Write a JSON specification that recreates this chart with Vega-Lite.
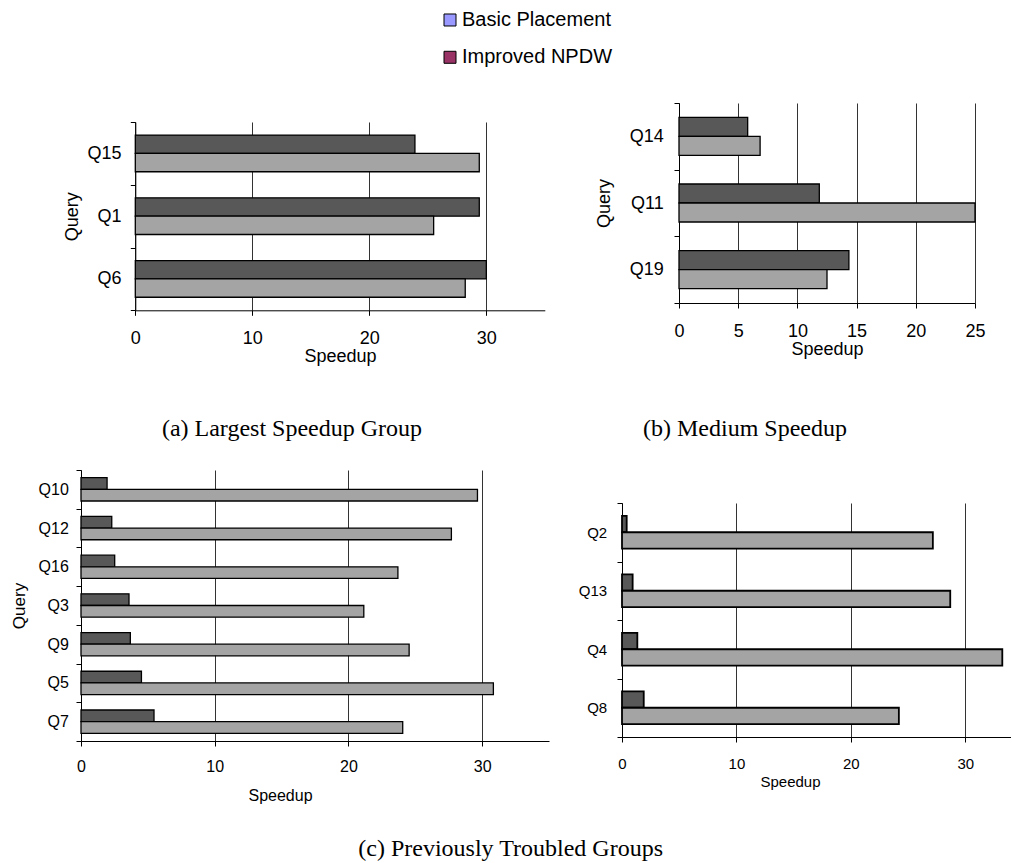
{
  "$schema": "https://vega.github.io/schema/vega-lite/v6.json",
  "autosize": {"type": "pad"},
  "padding": {"left": 10, "top": 5, "right": 0, "bottom": 0},
  "background": "white",
  "title": {"text": "(c) Previously Troubled Groups", "orient": "bottom", "anchor": "middle", "baseline": "top", "offset": 33},
  "config": {
    "view": {"stroke": null},
    "axis": {"domainColor": "black", "tickColor": "black", "labelColor": "black", "titleColor": "black", "labelFont": "Liberation Sans", "titleFont": "Liberation Sans", "titleFontWeight": "normal", "gridColor": "#333333", "gridWidth": 1, "tickSize": 5, "domainWidth": 1, "tickWidth": 1, "labelFlush": false, "labelOverlap": false},
    "axisX": {"grid": true},
    "axisY": {"grid": false},
    "title": {"font": "Liberation Serif", "fontSize": 24, "fontWeight": "normal", "color": "black"}
  },
  "spacing": 20,
  "resolve": {"scale": {"yOffset": "independent"}},
  "vconcat": [
    {
      "spacing": 17,
      "resolve": {"scale": {"yOffset": "independent"}},
      "vconcat": [
        {
          "width": 369,
          "height": 72,
          "data": {"values": [{"series": "Basic Placement"}, {"series": "Improved NPDW"}]},
          "encoding": {
            "y": {"field": "series", "type": "nominal", "scale": {"type": "point", "domain": ["Basic Placement", "Improved NPDW"], "padding": 0.465, "align": 0.432}, "axis": null},
            "x": {"datum": 1, "type": "quantitative", "scale": {"domain": [0, 1], "nice": false}, "axis": null}
          },
          "layer": [
            {"mark": {"type": "square", "size": 144, "filled": true, "opacity": 1, "stroke": "black", "strokeWidth": 1},
             "encoding": {"color": {"field": "series", "type": "nominal", "scale": {"domain": ["Basic Placement", "Improved NPDW"], "range": ["#9999ff", "#993366"]}, "legend": null}}},
            {"mark": {"type": "text", "align": "left", "baseline": "middle", "dx": 12, "font": "Liberation Sans", "fontSize": 20, "color": "black"},
             "encoding": {"text": {"field": "series"}}}
          ]
        },
        {
          "spacing": 50,
          "resolve": {"scale": {"yOffset": "independent"}},
          "hconcat": [
            {
              "spacing": 8,
              "resolve": {"scale": {"yOffset": "independent"}},
              "vconcat": [
                {"width": 10, "height": 2, "data": {"values": []}, "mark": "point", "encoding": {}},
                {
                  "width": 464,
                  "height": 188.3,
                  "title": {"text": "(a) Largest Speedup Group", "orient": "bottom", "frame": "group", "anchor": "middle", "dx": -21, "baseline": "top", "offset": 52},
                  "data": {"values": [
                    {"query": "Q15", "series": "Improved NPDW", "speedup": 23.9},
                    {"query": "Q15", "series": "Basic Placement", "speedup": 29.4},
                    {"query": "Q1", "series": "Improved NPDW", "speedup": 29.4},
                    {"query": "Q1", "series": "Basic Placement", "speedup": 25.5},
                    {"query": "Q6", "series": "Improved NPDW", "speedup": 30.0},
                    {"query": "Q6", "series": "Basic Placement", "speedup": 28.2}
                  ]},
                  "mark": {"type": "bar", "stroke": "black", "strokeWidth": 1.3},
                  "encoding": {
                    "y": {"field": "query", "type": "nominal", "scale": {"domain": ["Q15", "Q1", "Q6"], "paddingInner": 0, "paddingOuter": 0}, "axis": {"title": "Query", "offset": -54.3, "tickBand": "extent", "labelFontSize": 18, "titleFontSize": 18, "labelPadding": 9.3, "titlePadding": 5}},
                    "yOffset": {"field": "series", "type": "nominal", "scale": {"domain": ["Improved NPDW", "Basic Placement"], "paddingInner": 0, "paddingOuter": 0.71}},
                    "x": {"field": "speedup", "type": "quantitative", "scale": {"domain": [0, 35], "range": [54.3, 463.8], "nice": false}, "axis": {"title": "Speedup", "values": [0, 10, 20, 30], "labelFontSize": 18, "titleFontSize": 18, "labelPadding": 14, "titlePadding": 0}},
                    "fill": {"field": "series", "type": "nominal", "scale": {"domain": ["Basic Placement", "Improved NPDW"], "range": ["#a4a4a4", "#585858"]}, "legend": null}
                  }
                }
              ]
            },
            {
              "width": 296,
              "height": 200,
              "title": {"text": "(b) Medium Speedup", "orient": "bottom", "frame": "group", "anchor": "middle", "dx": -82, "baseline": "top", "offset": 59},
              "data": {"values": [
                {"query": "Q14", "series": "Improved NPDW", "speedup": 5.8},
                {"query": "Q14", "series": "Basic Placement", "speedup": 6.85},
                {"query": "Q11", "series": "Improved NPDW", "speedup": 11.85},
                {"query": "Q11", "series": "Basic Placement", "speedup": 25.0},
                {"query": "Q19", "series": "Improved NPDW", "speedup": 14.35},
                {"query": "Q19", "series": "Basic Placement", "speedup": 12.5}
              ]},
              "mark": {"type": "bar", "stroke": "black", "strokeWidth": 1.3},
              "encoding": {
                "y": {"field": "query", "type": "nominal", "scale": {"domain": ["Q14", "Q11", "Q19"], "paddingInner": 0, "paddingOuter": 0}, "axis": {"title": "Query", "tickBand": "extent", "labelFontSize": 18, "titleFontSize": 18, "labelPadding": 10.7, "titlePadding": 16}},
                "yOffset": {"field": "series", "type": "nominal", "scale": {"domain": ["Improved NPDW", "Basic Placement"], "paddingInner": 0, "paddingOuter": 0.755}},
                "x": {"field": "speedup", "type": "quantitative", "scale": {"domain": [0, 25], "nice": false}, "axis": {"title": "Speedup", "values": [0, 5, 10, 15, 20, 25], "labelFontSize": 18, "titleFontSize": 18, "labelPadding": 14, "titlePadding": 0}},
                "fill": {"field": "series", "type": "nominal", "scale": {"domain": ["Basic Placement", "Improved NPDW"], "range": ["#a4a4a4", "#585858"]}, "legend": null}
              }
            }
          ]
        }
      ]
    },
    {
      "spacing": 29,
      "resolve": {"scale": {"yOffset": "independent"}},
      "hconcat": [
        {
          "width": 468,
          "height": 271,
          "data": {"values": [
            {"query": "Q10", "series": "Improved NPDW", "speedup": 1.95},
            {"query": "Q10", "series": "Basic Placement", "speedup": 29.65},
            {"query": "Q12", "series": "Improved NPDW", "speedup": 2.3},
            {"query": "Q12", "series": "Basic Placement", "speedup": 27.7},
            {"query": "Q16", "series": "Improved NPDW", "speedup": 2.52},
            {"query": "Q16", "series": "Basic Placement", "speedup": 23.7},
            {"query": "Q3", "series": "Improved NPDW", "speedup": 3.59},
            {"query": "Q3", "series": "Basic Placement", "speedup": 21.15},
            {"query": "Q9", "series": "Improved NPDW", "speedup": 3.69},
            {"query": "Q9", "series": "Basic Placement", "speedup": 24.54},
            {"query": "Q5", "series": "Improved NPDW", "speedup": 4.52},
            {"query": "Q5", "series": "Basic Placement", "speedup": 30.84},
            {"query": "Q7", "series": "Improved NPDW", "speedup": 5.46},
            {"query": "Q7", "series": "Basic Placement", "speedup": 24.06}
          ]},
          "mark": {"type": "bar", "stroke": "black", "strokeWidth": 1.3},
          "encoding": {
            "y": {"field": "query", "type": "nominal", "scale": {"domain": ["Q10", "Q12", "Q16", "Q3", "Q9", "Q5", "Q7"], "paddingInner": 0, "paddingOuter": 0}, "axis": {"title": "Query", "tickBand": "extent", "labelFontSize": 16, "titleFontSize": 17, "labelPadding": 7.7, "titlePadding": 9.8}},
            "yOffset": {"field": "series", "type": "nominal", "scale": {"domain": ["Improved NPDW", "Basic Placement"], "paddingInner": 0, "paddingOuter": 0.661}},
            "x": {"field": "speedup", "type": "quantitative", "scale": {"domain": [0, 35], "nice": false}, "axis": {"title": "Speedup", "values": [0, 10, 20, 30], "labelFontSize": 16, "titleFontSize": 16, "labelPadding": 12.2, "titlePadding": 13.6, "titleX": 199}},
            "fill": {"field": "series", "type": "nominal", "scale": {"domain": ["Basic Placement", "Improved NPDW"], "range": ["#a4a4a4", "#585858"]}, "legend": null}
          }
        },
        {
          "spacing": 24,
          "resolve": {"scale": {"yOffset": "independent"}},
          "vconcat": [
            {"width": 10, "height": 2, "data": {"values": []}, "mark": "point", "encoding": {}},
            {
              "width": 389,
              "height": 234,
              "data": {"values": [
                {"query": "Q2", "series": "Improved NPDW", "speedup": 0.41},
                {"query": "Q2", "series": "Basic Placement", "speedup": 27.17},
                {"query": "Q13", "series": "Improved NPDW", "speedup": 0.93},
                {"query": "Q13", "series": "Basic Placement", "speedup": 28.69},
                {"query": "Q4", "series": "Improved NPDW", "speedup": 1.34},
                {"query": "Q4", "series": "Basic Placement", "speedup": 33.24},
                {"query": "Q8", "series": "Improved NPDW", "speedup": 1.9},
                {"query": "Q8", "series": "Basic Placement", "speedup": 24.2}
              ]},
              "mark": {"type": "bar", "stroke": "black", "strokeWidth": 1.8},
              "encoding": {
                "y": {"field": "query", "type": "nominal", "scale": {"domain": ["Q2", "Q13", "Q4", "Q8"], "paddingInner": 0, "paddingOuter": 0}, "axis": {"title": null, "tickBand": "extent", "labelFontSize": 15, "labelPadding": 10.3}},
                "yOffset": {"field": "series", "type": "nominal", "scale": {"domain": ["Improved NPDW", "Basic Placement"], "paddingInner": 0, "paddingOuter": 0.789}},
                "x": {"field": "speedup", "type": "quantitative", "scale": {"domain": [0, 34], "nice": false}, "axis": {"title": "Speedup", "values": [0, 10, 20, 30], "labelFontSize": 15, "titleFontSize": 15, "labelPadding": 14, "titlePadding": 3, "titleX": 168}},
                "fill": {"field": "series", "type": "nominal", "scale": {"domain": ["Basic Placement", "Improved NPDW"], "range": ["#a4a4a4", "#585858"]}, "legend": null}
              }
            }
          ]
        }
      ]
    }
  ]
}
